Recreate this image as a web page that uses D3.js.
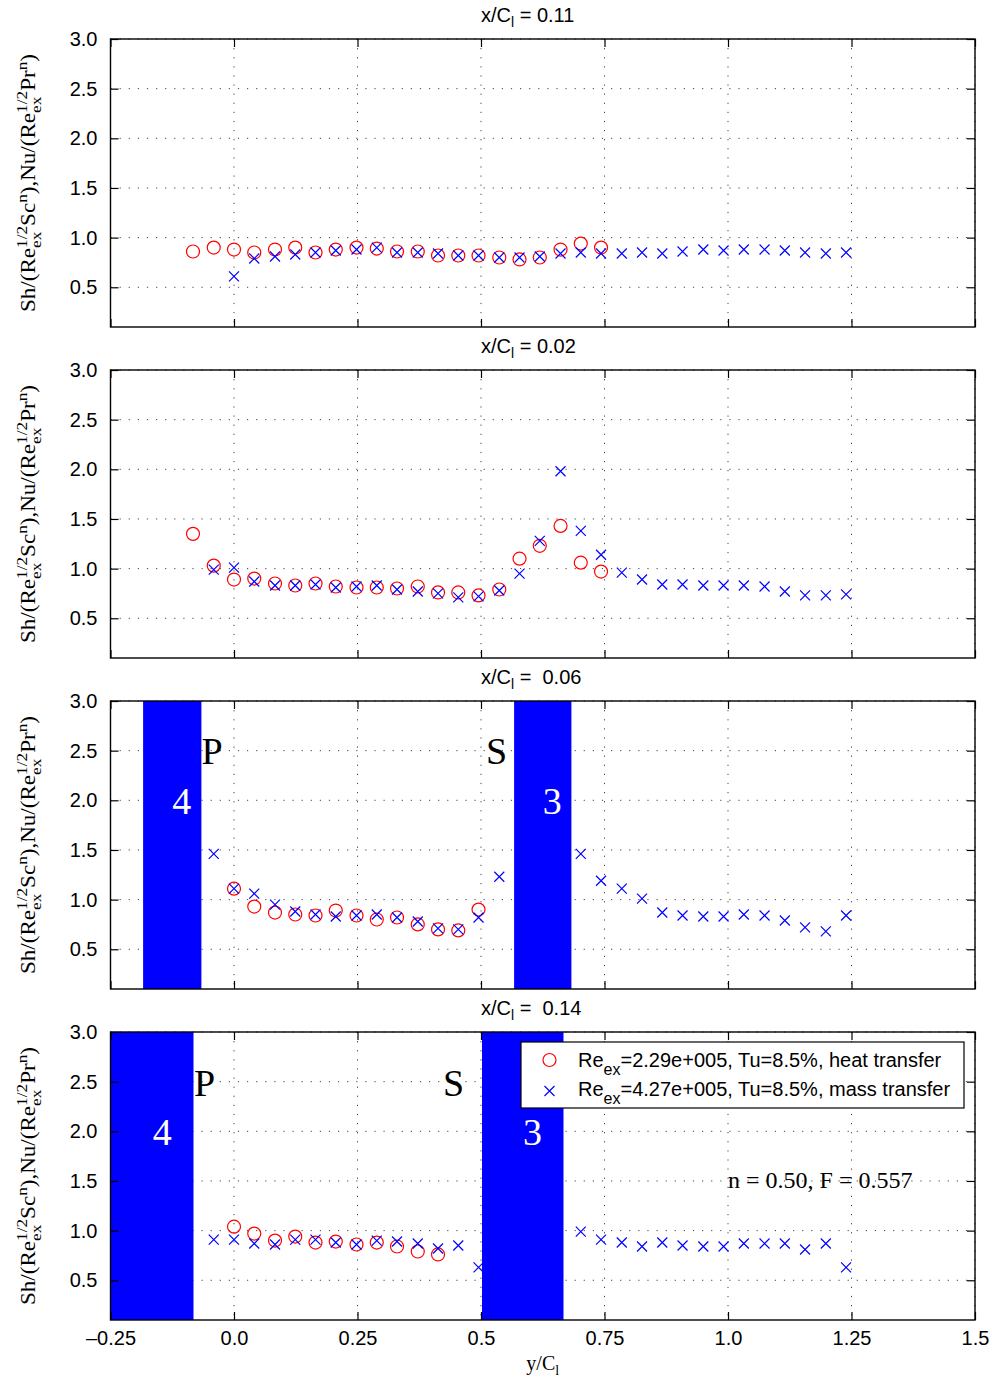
<!DOCTYPE html>
<html>
<head>
<meta charset="utf-8">
<script src="https://cdn.jsdelivr.net/npm/d3@7"></script>
<style>
  body { margin: 0; background: #fff; }
  text { white-space: pre; }
</style>
</head>
<body>
<svg id="chart" width="992" height="1380"></svg>
<script>
// measurement stations along the pitch (y/C_l)
let stations = [-0.083,-0.041,0,0.041,0.083,0.124,0.165,0.206,0.248,0.289,0.330,0.372,0.413,0.454,0.495,0.537,0.578,0.619,0.661,0.702,0.743,0.785,0.826,0.867,0.908,0.950,0.991,1.032,1.074,1.115,1.156,1.198,1.239]

// heat transfer (circles), one array per panel
let heat011 = [0.86,0.90,0.88,0.85,0.88,0.90,0.85,0.88,0.90,0.89,0.86,0.86,0.82,0.82,0.82,0.80,0.78,0.80,0.88,0.94,0.90,null,null,null,null,null,null,null,null,null,null,null,null]
let heat002 = [1.35,1.03,0.89,0.90,0.85,0.83,0.85,0.82,0.81,0.81,0.80,0.82,0.76,0.76,0.73,0.79,1.10,1.23,1.43,1.06,0.97,null,null,null,null,null,null,null,null,null,null,null,null]
let heat006 = [null,null,1.11,0.93,0.87,0.85,0.84,0.89,0.84,0.80,0.82,0.75,0.70,0.69,0.90,null,null,null,null,null,null,null,null,null,null,null,null,null,null,null,null,null,null]
let heat014 = [null,null,1.04,0.97,0.90,0.94,0.88,0.89,0.86,0.88,0.84,0.79,0.76,null,null,null,null,null,null,null,null,null,null,null,null,null,null,null,null,null,null,null,null]

// mass transfer (crosses)
let mass011 = [null,null,0.61,0.79,0.81,0.83,0.85,0.87,0.88,0.90,0.85,0.85,0.84,0.82,0.82,0.80,0.80,0.81,0.84,0.85,0.84,0.84,0.85,0.84,0.86,0.88,0.87,0.88,0.88,0.87,0.85,0.84,0.85]
let mass002 = [null,0.99,1.01,0.87,0.83,0.83,0.84,0.81,0.82,0.83,0.79,0.77,0.75,0.71,0.72,0.78,0.95,1.28,1.98,1.38,1.14,0.96,0.89,0.84,0.84,0.83,0.83,0.83,0.82,0.77,0.73,0.73,0.74]
let mass006 = [null,1.46,1.11,1.06,0.95,0.88,0.85,0.83,0.84,0.85,0.82,0.78,0.71,0.70,0.82,1.23,null,null,null,1.46,1.19,1.11,1.01,0.87,0.84,0.83,0.83,0.85,0.84,0.79,0.72,0.68,0.84]
let mass014 = [null,0.91,0.91,0.87,0.86,0.91,0.91,0.88,0.86,0.90,0.89,0.87,0.82,0.85,0.63,null,null,null,null,0.99,0.91,0.88,0.84,0.88,0.85,0.84,0.84,0.87,0.87,0.87,0.81,0.87,0.63]

// panel titles (x/C_l value)
let panelTitles = ["= 0.11", "= 0.02", "=  0.06", "=  0.14"]

// blade passage bands [from, to, label]
let bands006 = [[-0.184, -0.066, "4"], [0.567, 0.683, "3"]]
let bands014 = [[-0.25, -0.082, "4"], [0.502, 0.667, "3"]]
// band number positions [x, y]
let bandLabels006 = [[-0.106, 1.86], [0.644, 1.86]]
let bandLabels014 = [[-0.145, 1.86], [0.604, 1.86]]
// pressure / suction side labels [x, y, text]
let sideLabels006 = [[-0.066, 2.37, "P"], [0.510, 2.37, "S"]]
let sideLabels014 = [[-0.081, 2.36, "P"], [0.423, 2.36, "S"]]

let xTicks = [-0.25, 0, 0.25, 0.5, 0.75, 1.0, 1.25, 1.5]
let xTickLabels = ["\u20130.25", "0.0", "0.25", "0.5", "0.75", "1.0", "1.25", "1.5"]
let yTicks = [0.5, 1.0, 1.5, 2.0, 2.5, 3.0]

let legendLabels = ["=2.29e+005, Tu=8.5%, heat transfer", "=4.27e+005, Tu=8.5%, mass transfer"]
let noteText = "n = 0.50, F = 0.557"
let notePos = [1.0, 1.43]

let panels = [
    {title: panelTitles[0], heat: heat011, mass: mass011, bands: [], bandLabels: [], sides: []},
    {title: panelTitles[1], heat: heat002, mass: mass002, bands: [], bandLabels: [], sides: []},
    {title: panelTitles[2], heat: heat006, mass: mass006, bands: bands006, bandLabels: bandLabels006, sides: sideLabels006},
    {title: panelTitles[3], heat: heat014, mass: mass014, bands: bands014, bandLabels: bandLabels014, sides: sideLabels014}
]

let sans = "'Liberation Sans', Arial, Helvetica, sans-serif"
let serif = "'Liberation Serif', 'Times New Roman', serif"

let plotLeft = 110.5
let plotRight = 975
let panelTop0 = 39
let panelStep = 331
let panelH = 288

let svg = d3.select("#chart")
svg.append("rect").attr("width", 992).attr("height", 1380).attr("fill", "white")

let xscale = d3.scaleLinear().domain([-0.25, 1.5]).range([plotLeft, plotRight])

// draws text made of pieces with sub/superscripts, returns total width
function richText(parent, parts, font, size){
    let g = parent.append("g")
    let x = 0
    let prevStart = 0
    parts.forEach(p => {
        let start = p.stack ? prevStart : x
        let t = g.append("text")
            .attr("x", start)
            .attr("y", p.dy || 0)
            .style("font-family", font)
            .style("font-size", (p.size || size) + "px")
            .attr("fill", p.fill || "black")
            .text(p.t)
        let w = t.node().getComputedTextLength()
        x = p.stack ? Math.max(x, start + w) : start + w
        prevStart = start
    })
    return {g: g, width: x}
}

panels.forEach((panel, k) => {
    let top = panelTop0 + k * panelStep
    let yscale = d3.scaleLinear().domain([0.1, 3.0]).range([top + panelH, top])
    let g = svg.append("g")

    let clipId = "clip" + k
    svg.append("clipPath").attr("id", clipId)
        .append("rect").attr("x", plotLeft).attr("y", top).attr("width", plotRight - plotLeft).attr("height", panelH)

    // dotted grid
    g.selectAll(".gx").data(xTicks).enter().append("line")
        .attr("x1", d => xscale(d)).attr("x2", d => xscale(d))
        .attr("y1", top).attr("y2", top + panelH)
        .attr("stroke", "#444").attr("stroke-width", 1).attr("stroke-dasharray", "1.2,7.9")
    g.selectAll(".gy").data(yTicks).enter().append("line")
        .attr("y1", d => yscale(d)).attr("y2", d => yscale(d))
        .attr("x1", plotLeft).attr("x2", plotRight)
        .attr("stroke", "#444").attr("stroke-width", 1).attr("stroke-dasharray", "1.2,7.9")

    // heat transfer circles
    let heatPts = stations.map((s, i) => [s, panel.heat[i]]).filter(d => d[1] !== null)
    g.selectAll(".heat").data(heatPts).enter().append("circle")
        .attr("cx", d => xscale(d[0])).attr("cy", d => yscale(d[1]))
        .attr("r", 6.5).attr("fill", "none").attr("stroke", "#ff0000").attr("stroke-width", 1.2)

    // mass transfer crosses
    let massPts = stations.map((s, i) => [s, panel.mass[i]]).filter(d => d[1] !== null)
    g.selectAll(".mass").data(massPts).enter().append("path")
        .attr("d", d => {
            let cx = xscale(d[0]), cy = yscale(d[1]), h = 5
            return "M" + (cx-h) + "," + (cy-h) + "L" + (cx+h) + "," + (cy+h) + "M" + (cx-h) + "," + (cy+h) + "L" + (cx+h) + "," + (cy-h)
        })
        .attr("stroke", "#0000ff").attr("stroke-width", 1.2).attr("fill", "none")

    // passage bands
    g.append("g").attr("clip-path", "url(#" + clipId + ")")
        .selectAll("rect").data(panel.bands).enter().append("rect")
        .attr("x", d => xscale(d[0])).attr("width", d => xscale(d[1]) - xscale(d[0]))
        .attr("y", top).attr("height", panelH)
        .attr("fill", "#0000ff")

    g.selectAll(".bandnum").data(panel.bandLabels).enter().append("text")
        .attr("x", d => xscale(d[0])).attr("y", d => yscale(d[1]))
        .attr("text-anchor", "middle")
        .style("font-family", serif).style("font-size", "38px")
        .attr("fill", "white")
        .text((d, i) => panel.bands[i][2])

    g.selectAll(".side").data(panel.sides).enter().append("text")
        .attr("x", d => xscale(d[0])).attr("y", d => yscale(d[1]))
        .style("font-family", serif).style("font-size", "38px")
        .attr("fill", "black")
        .text(d => d[2])

    // axes with inward ticks
    let yLeft = d3.axisLeft(yscale).tickValues(yTicks).tickSize(-8).tickPadding(13).tickFormat(d3.format(".1f"))
    let ga = g.append("g").attr("transform", "translate(" + plotLeft + ",0)").call(yLeft)
    ga.select(".domain").remove()
    ga.selectAll("text").style("font-family", sans).style("font-size", "20px")
    ga.selectAll("line").attr("stroke-width", 1.2)

    let yRight = d3.axisRight(yscale).tickValues(yTicks).tickSize(-8).tickFormat("")
    let gr = g.append("g").attr("transform", "translate(" + plotRight + ",0)").call(yRight)
    gr.select(".domain").remove()
    gr.selectAll("line").attr("stroke-width", 1.2)

    let xTop = d3.axisTop(xscale).tickValues(xTicks).tickSize(-8).tickFormat("")
    let gt = g.append("g").attr("transform", "translate(0," + top + ")").call(xTop)
    gt.select(".domain").remove()
    gt.selectAll("line").attr("stroke-width", 1.2)

    let xBottom = d3.axisBottom(xscale).tickValues(xTicks).tickSize(-8).tickPadding(11)
        .tickFormat((d, i) => k == panels.length - 1 ? xTickLabels[i] : "")
    let gb = g.append("g").attr("transform", "translate(0," + (top + panelH) + ")").call(xBottom)
    gb.select(".domain").remove()
    gb.selectAll("text").style("font-family", sans).style("font-size", "20px")
    gb.selectAll("line").attr("stroke-width", 1.2)

    // frame
    g.append("rect")
        .attr("x", plotLeft).attr("y", top).attr("width", plotRight - plotLeft).attr("height", panelH)
        .attr("fill", "none").attr("stroke", "black").attr("stroke-width", 1.4)

    // title
    let tt = richText(g, [
        {t: "x/C"},
        {t: "l", size: 14, dy: 5},
        {t: " " + panel.title}
    ], sans, 20)
    tt.g.attr("transform", "translate(" + xscale(0.5) + "," + (top - 17) + ")")

    // y axis label, stretched along its length like the original export
    let yl = richText(g, [
        {t: "Sh/(Re"},
        {t: "1/2", size: 15, dy: -8},
        {t: "ex", size: 15, dy: 6, stack: true},
        {t: "Sc"},
        {t: "n", size: 15, dy: -8},
        {t: "),Nu/(Re"},
        {t: "1/2", size: 15, dy: -8},
        {t: "ex", size: 15, dy: 6, stack: true},
        {t: "Pr"},
        {t: "n", size: 15, dy: -8},
        {t: ")"}
    ], serif, 20)
    let stretch = 258 / yl.width
    yl.g.attr("transform", "translate(35," + (top + panelH / 2 + 129) + ") rotate(-90) scale(" + stretch + ",1)")

    // legend and note in the last panel
    if(k == panels.length - 1){
        let lg = g.append("g").attr("transform", "translate(521," + (top + 10) + ")")
        lg.append("rect").attr("width", 443).attr("height", 66)
            .attr("fill", "white").attr("stroke", "black").attr("stroke-width", 1.2)
        lg.append("circle").attr("cx", 28.5).attr("cy", 18).attr("r", 6.5)
            .attr("fill", "none").attr("stroke", "#ff0000").attr("stroke-width", 1.2)
        lg.append("path").attr("d", "M23.5,44L33.5,54M23.5,54L33.5,44")
            .attr("stroke", "#0000ff").attr("stroke-width", 1.2)
        legendLabels.forEach((lab, i) => {
            let r = richText(lg, [
                {t: "Re"},
                {t: "ex", size: 16, dy: 8},
                {t: lab}
            ], sans, 20)
            r.g.attr("transform", "translate(57," + (25 + i * 29) + ")")
        })

        g.append("text")
            .attr("x", xscale(notePos[0])).attr("y", yscale(notePos[1]))
            .style("font-family", serif).style("font-size", "24px")
            .text(noteText)

        let xl = richText(g, [
            {t: "y/C"},
            {t: "l", size: 14, dy: 5}
        ], serif, 20)
        xl.g.attr("transform", "translate(" + ((plotLeft + plotRight) / 2 - xl.width / 2) + ",1370)")
    }
})
</script>
</body>
</html>
